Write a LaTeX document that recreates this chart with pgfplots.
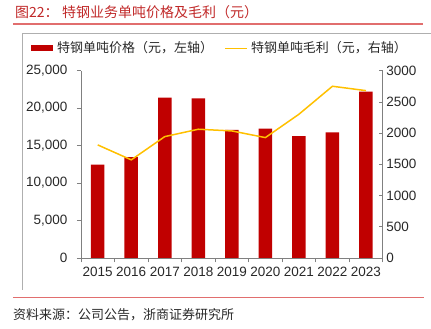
\documentclass[border=0pt]{standalone}
\usepackage{pgfplots}
\pgfplotsset{compat=1.18}
\usepackage{fontspec}
\setmainfont{Liberation Sans}
\newfontfamily\cjk{Noto Sans CJK SC}
\definecolor{barred}{RGB}{192,0,0}
\definecolor{lineyel}{RGB}{255,192,0}
\definecolor{titlered}{RGB}{192,40,40}
\definecolor{rulered}{RGB}{225,110,110}
\definecolor{framegray}{RGB}{175,175,175}
\definecolor{axisgray}{RGB}{128,128,128}
\definecolor{txt}{RGB}{40,40,40}
\begin{document}
\begin{tikzpicture}
\path (0,0) rectangle (431bp,-329bp);
\draw[rulered, line width=1.2bp] (13bp,-24bp) -- (423bp,-24bp);
\draw[rulered, line width=1.2bp] (13bp,-298bp) -- (424bp,-298bp);
\draw[framegray, line width=0.6bp] (22bp,-290bp) -- (22bp,-33bp) -- (431bp,-33bp);
\node[anchor=west, inner sep=0, text=titlered, font=\cjk\fontsize{14bp}{16bp}\selectfont] at (15bp,-12bp) {图22：};
\node[anchor=west, inner sep=0, text=titlered, font=\cjk\fontsize{14bp}{16bp}\selectfont] at (62bp,-12bp) {特钢业务单吨价格及毛利（元）};
\node[anchor=west, inner sep=0, text=txt, font=\cjk\fontsize{13bp}{15bp}\selectfont] at (13bp,-315bp) {资料来源：公司公告，浙商证券研究所};
% legend
\fill[barred] (31bp,-45.5bp) rectangle (53bp,-51bp);
\node[anchor=west, inner sep=0, text=txt, font=\cjk\fontsize{13bp}{15bp}\selectfont] at (57bp,-48bp) {特钢单吨价格（元，左轴）};
\draw[lineyel, line width=1.5bp] (225bp,-48.3bp) -- (247bp,-48.3bp);
\node[anchor=west, inner sep=0, text=txt, font=\cjk\fontsize{13bp}{15bp}\selectfont] at (251bp,-48bp) {特钢单吨毛利（元，右轴）};
\begin{axis}[
  scale only axis, width=302bp, height=187.3bp,
  at={(81bp,-258bp)}, anchor=south west,
  xmin=-0.5, xmax=8.5, ymin=0, ymax=25000,
  axis x line*=bottom, axis y line*=left,
  axis line style={axisgray, line width=0.6bp},
  every tick/.style={axisgray, line width=0.6bp},
  xtick={0,...,8}, xticklabels={2015,2016,2017,2018,2019,2020,2021,2022,2023},
  major x tick style={draw=none},
  minor xtick={-0.5,0.5,...,8.5},
  tick align=outside, major tick length=4bp, minor tick length=4.5bp,
  ytick={0,5000,...,25000},
  scaled y ticks=false,
  tick label style={text=txt, font=\fontsize{13.5bp}{16bp}\selectfont},
  xticklabel style={yshift=-2bp},
  yticklabel style={xshift=-6bp},
  /pgf/number format/.cd, fixed, 1000 sep={,}, assume math mode=true,
]
\addplot[ybar, bar width=13.5bp, fill=barred, draw=none] coordinates {
(0,12450) (1,13440) (2,21400) (3,21300) (4,17080) (5,17250) (6,16240) (7,16770) (8,22200)};
\end{axis}
\begin{axis}[
  scale only axis, width=302bp, height=187.3bp,
  at={(81bp,-258bp)}, anchor=south west,
  xmin=-0.5, xmax=8.5, ymin=0, ymax=3000,
  axis x line=none, axis y line*=right,
  axis line style={axisgray, line width=0.6bp},
  every tick/.style={axisgray, line width=0.6bp},
  tick align=inside, major tick length=3.5bp,
  ytick={0,500,...,3000},
  scaled y ticks=false,
  tick label style={text=txt, font=\fontsize{13.5bp}{16bp}\selectfont},
  /pgf/number format/.cd, fixed, 1000 sep={}, assume math mode=true,
]
\addplot[lineyel, line width=1.5bp, mark=none] coordinates {
(0,1810) (1,1570) (2,1943) (3,2061) (4,2034) (5,1927) (6,2301) (7,2750) (8,2680)};
\end{axis}
\end{tikzpicture}
\end{document}
